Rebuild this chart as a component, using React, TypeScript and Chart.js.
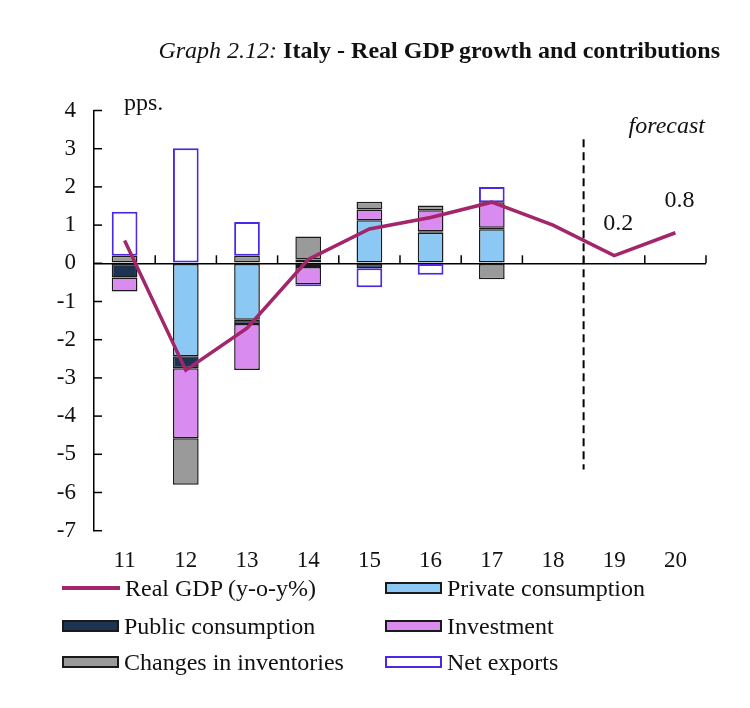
import React, { useEffect, useRef } from "react";
import { Chart, registerables } from "chart.js";

Chart.register(...registerables);

const years = ["11", "12", "13", "14", "15", "16", "17", "18", "19", "20"];
const gdp = [0.6, -2.8, -1.7, 0.1, 0.9, 1.2, 1.6, 1.0, 0.2, 0.8];
const privateCons = [0, -2.43, -1.48, 0.1, 1.13, 0.8, 0.89, null, null, null];
const publicCons = [-0.37, -0.32, -0.11, -0.1, -0.13, 0.04, 0.04, null, null, null];
const investment = [-0.37, -1.83, -1.2, -0.45, 0.28, 0.55, 0.67, null, null, null];
const inventories = [0.2, -1.22, 0.2, 0.6, 0.2, 0.12, -0.42, null, null, null];
const netExports = [1.15, 3.01, 0.88, -0.05, -0.5, -0.3, 0.4, null, null, null];
const yTicks = [4, 3, 2, 1, 0, -1, -2, -3, -4, -5, -6, -7];
const labelledPoints = [8, 9];

const SERIF = '"Liberation Serif", "Times New Roman", serif';
const C_GDP = "#A4266A";
const C_PRIV = "#8CC8F4";
const C_PUB = "#1C3452";
const C_INV = "#DA8BF0";
const C_STOCK = "#9A9A9A";
const C_NX = "#4A28E6";
const C_EDGE = "#1a1a1a";
const FS = 24;

const annotations = {
  id: "annotations",
  afterDraw(chart: any) {
    const { ctx, chartArea, scales } = chart;
    const x = scales.x;
    const y = scales.y;
    ctx.save();
    ctx.strokeStyle = "#000";
    ctx.lineWidth = 1.5;
    yTicks.forEach((v) => {
      const py = y.getPixelForValue(v);
      ctx.beginPath();
      ctx.moveTo(chartArea.left, py);
      ctx.lineTo(chartArea.left + 8, py);
      ctx.stroke();
    });
    const y0 = y.getPixelForValue(0);
    for (let i = 0; i < years.length; i++) {
      const bx =
        i < years.length - 1
          ? (x.getPixelForValue(i) + x.getPixelForValue(i + 1)) / 2
          : chartArea.right;
      ctx.beginPath();
      ctx.moveTo(bx, y0);
      ctx.lineTo(bx, y0 - 8);
      ctx.stroke();
    }
    const dx = (x.getPixelForValue(7) + x.getPixelForValue(8)) / 2;
    ctx.setLineDash([8, 5]);
    ctx.lineWidth = 2;
    ctx.beginPath();
    ctx.moveTo(dx, y.getPixelForValue(3.25));
    ctx.lineTo(dx, y.getPixelForValue(-5.4));
    ctx.stroke();
    ctx.setLineDash([]);
    ctx.fillStyle = "#111";
    ctx.textBaseline = "middle";
    ctx.font = `${FS}px ${SERIF}`;
    ctx.textAlign = "left";
    ctx.fillText("pps.", chartArea.left + 30, chartArea.top - 7);
    ctx.font = `italic ${FS}px ${SERIF}`;
    ctx.textAlign = "right";
    ctx.fillText("forecast", chartArea.right - 1, chartArea.top + 16);
    ctx.font = `${FS}px ${SERIF}`;
    ctx.textAlign = "center";
    labelledPoints.forEach((i) => {
      const px = x.getPixelForValue(i);
      const py = y.getPixelForValue(gdp[i]);
      ctx.fillText(gdp[i].toFixed(1), px + 4, py - 32);
    });
    ctx.restore();
  },
};

function barSet(label: string, data: any[], bg: string, border: string, bw: number) {
  return {
    type: "bar" as const,
    label,
    data,
    backgroundColor: bg,
    borderColor: border,
    borderWidth: bw,
    borderSkipped: false,
    categoryPercentage: 1,
    barPercentage: 0.42,
    stack: "contrib",
    order: 1,
  };
}

export default function App() {
  const ref = useRef<HTMLCanvasElement>(null);

  useEffect(() => {
    if (!ref.current) return;
    const chart = new Chart(ref.current, {
      data: {
        labels: years,
        datasets: [
          {
            type: "line",
            label: "Real GDP (y-o-y%)",
            data: gdp,
            borderColor: C_GDP,
            borderWidth: 3.5,
            pointRadius: 0,
            tension: 0,
            fill: false,
            stack: "gdp",
            order: 0,
          } as any,
          barSet("Private consumption", privateCons, C_PRIV, C_EDGE, 1.5),
          barSet("Public consumption", publicCons, C_PUB, C_EDGE, 1.5),
          barSet("Investment", investment, C_INV, C_EDGE, 1.5),
          barSet("Changes in inventories", inventories, C_STOCK, C_EDGE, 1.5),
          barSet("Net exports", netExports, "#ffffff", C_NX, 2),
        ],
      },
      options: {
        animation: false,
        responsive: false,
        devicePixelRatio: 1,
        layout: { padding: { left: 0, right: 44, top: 110.5, bottom: 0 } },
        plugins: {
          legend: { display: false },
          title: { display: false },
          tooltip: { enabled: false },
        },
        scales: {
          x: {
            type: "category",
            stacked: true,
            grid: { display: false, drawTicks: false },
            border: { display: false },
            ticks: {
              color: "#111",
              font: { family: SERIF, size: 23 },
              padding: 16,
              maxRotation: 0,
              autoSkip: false,
            },
            afterFit: (s: any) => {
              s.height = 177.3;
            },
          },
          y: {
            stacked: true,
            min: -7,
            max: 4,
            ticks: {
              stepSize: 1,
              color: "#111",
              font: { family: SERIF, size: 23 },
              padding: 18,
            },
            grid: {
              drawTicks: false,
              color: (c: any) => (c.tick && c.tick.value === 0 ? "#000" : "rgba(0,0,0,0)"),
              lineWidth: 1.5,
            },
            border: { display: true, color: "#000", width: 1.5 },
            afterFit: (s: any) => {
              s.width = 94;
            },
          },
        },
      } as any,
      plugins: [annotations],
    });
    return () => chart.destroy();
  }, []);

  const legendText: React.CSSProperties = {
    fontSize: FS,
    lineHeight: "28px",
    color: "#111",
    whiteSpace: "nowrap",
    marginLeft: 5,
  };
  const item = (left: number, cy: number, swatch: React.ReactNode, text: string) => (
    <div
      style={{
        position: "absolute",
        left,
        top: cy - 14,
        height: 28,
        display: "flex",
        alignItems: "center",
      }}
    >
      {swatch}
      <span style={legendText}>{text}</span>
    </div>
  );
  const box = (bg: string, border: string) => (
    <div
      style={{
        width: 57,
        height: 12,
        boxSizing: "border-box",
        background: bg,
        border: `2px solid ${border}`,
      }}
    />
  );

  return (
    <div
      style={{
        position: "absolute",
        left: 0,
        top: 0,
        width: 750,
        height: 708,
        background: "#fff",
        fontFamily: SERIF,
        overflow: "hidden",
      }}
    >
      <canvas
        ref={ref}
        width={750}
        height={708}
        style={{ position: "absolute", left: 0, top: 0, width: 750, height: 708 }}
      />
      <div
        style={{
          position: "absolute",
          right: 30,
          top: 36,
          fontSize: FS,
          lineHeight: "28px",
          color: "#111",
          whiteSpace: "nowrap",
        }}
      >
        <i>Graph 2.12:</i> <b>Italy - Real GDP growth and contributions</b>
      </div>
      {item(62, 588, <div style={{ width: 58, height: 4, background: C_GDP }} />, "Real GDP (y-o-y%)")}
      {item(385, 588, box(C_PRIV, C_EDGE), "Private consumption")}
      {item(62, 626, box(C_PUB, C_EDGE), "Public consumption")}
      {item(385, 626, box(C_INV, C_EDGE), "Investment")}
      {item(62, 662, box(C_STOCK, C_EDGE), "Changes in inventories")}
      {item(385, 662, box("#ffffff", C_NX), "Net exports")}
    </div>
  );
}
